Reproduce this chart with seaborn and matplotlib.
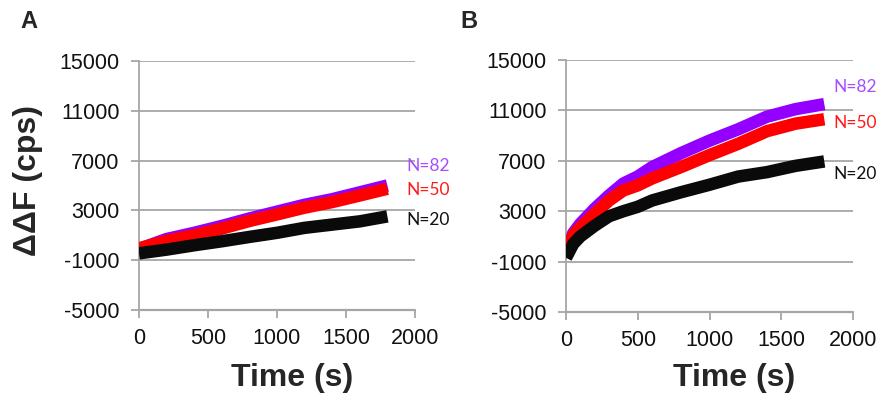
import matplotlib
matplotlib.use("Agg")
import matplotlib.pyplot as plt
import seaborn as sns
import pandas as pd

sns.set_style("white")
plt.rcParams['font.family'] = ['Liberation Sans', 'DejaVu Sans']

# ---- data ----
time_a = [0, 200, 400, 600, 800, 1000, 1200, 1400, 1600, 1800]
a_n82 = [-100, 700, 1200, 1750, 2350, 2900, 3450, 3900, 4450, 5000]
a_n50 = [-50, 550, 1000, 1540, 2150, 2680, 3220, 3670, 4200, 4740]
a_n20 = [-450, -150, 200, 520, 870, 1200, 1600, 1860, 2120, 2520]

time_b = [0, 50, 100, 200, 300, 400, 500, 600, 800, 1000, 1200, 1400, 1600, 1800]
b_n82 = [-500, 1250, 2000, 3200, 4250, 5200, 5750, 6500, 7600, 8600, 9500, 10500, 11100, 11500]
b_n50 = [-400, 1100, 1700, 2800, 3850, 4650, 5050, 5600, 6500, 7450, 8350, 9350, 9950, 10300]
b_n20 = [-700, 400, 1000, 1850, 2600, 3000, 3350, 3850, 4500, 5100, 5750, 6100, 6600, 6950]

series = ["N=82", "N=50", "N=20"]
colors = {"N=82": "#9400FF", "N=50": "#FF0000", "N=20": "#0A0A0A"}
label_colors = {"N=82": "#A64DFF", "N=50": "#FF1A1A", "N=20": "#111111"}

x_ticks = [0, 500, 1000, 1500, 2000]
y_ticks = [-5000, -1000, 3000, 7000, 11000, 15000]


def make_df(t, vals):
    rows = []
    for name, v in zip(series, vals):
        for ti, vi in zip(t, v):
            rows.append({"Time": ti, "dF": vi, "N": name})
    return pd.DataFrame(rows)


df_a = make_df(time_a, [a_n82, a_n50, a_n20])
df_b = make_df(time_b, [b_n82, b_n50, b_n20])

W, H = 883, 398
fig = plt.figure(figsize=(W / 100, H / 100), dpi=100)
ax_a = fig.add_axes([139 / W, 1 - 310 / H, 276 / W, 249 / H])
ax_b = fig.add_axes([566 / W, 1 - 312 / H, 287 / W, 252 / H])

grid_c = "#A6A6A6"
for ax, df, lab_pos, xlab_px in [
    (ax_a, df_a, {"N=82": (1935, 6566), "N=50": (1935, 4640), "N=20": (1935, 2220)}, 292),
    (ax_b, df_b, {"N=82": (1862, 12857), "N=50": (1862, 10000), "N=20": (1862, 5952)}, 734),
]:
    sns.lineplot(data=df, x="Time", y="dF", hue="N", hue_order=series,
                 palette=colors, linewidth=9, estimator=None, sort=False,
                 legend=False, ax=ax, solid_capstyle="butt", zorder=3)
    ax.set_xlim(0, 2000)
    ax.set_ylim(-5000, 15000)
    ax.set_xticks(x_ticks)
    ax.set_yticks(y_ticks)
    ax.set_xticklabels([str(v) for v in x_ticks], fontsize=15.5)
    ax.set_yticklabels([str(v) for v in y_ticks], fontsize=15.5)
    ax.grid(axis="y", color=grid_c, linewidth=1.3, zorder=0)
    ax.grid(axis="x", visible=False)
    for s in ["top", "right", "bottom"]:
        ax.spines[s].set_visible(False)
    ax.spines["left"].set_color(grid_c)
    ax.spines["left"].set_linewidth(1.3)
    ax.axhline(-5000, color=grid_c, linewidth=1.6, zorder=1, clip_on=False)
    ax.tick_params(axis="both", which="both", color=grid_c, width=1.3,
                   length=6, direction="out", labelcolor="#111111",
                   bottom=True, left=True)
    ax.tick_params(axis="x", pad=7)
    ax.tick_params(axis="y", pad=8)
    ax.set_xlabel("")
    ax.set_ylabel("")
    fig.text(xlab_px / W, 1 - 378 / H, "Time (s)", fontsize=23, fontweight="bold",
             ha="center", va="center")
    for name in series:
        x, y = lab_pos[name]
        ax.text(x, y, name, color=label_colors[name], fontsize=12.5,
                ha="left", va="center", clip_on=False, family=["Lato", "DejaVu Sans"])

fig.text(28 / W, 1 - 181 / H, "ΔΔF (cps)", fontsize=23, fontweight="bold",
         rotation=90, ha="center", va="center")

fig.text(29 / W, 1 - 22 / H, "A", fontsize=17, fontweight="bold", ha="center", va="center")
fig.text(469 / W, 1 - 22 / H, "B", fontsize=17, fontweight="bold", ha="center", va="center")

fig.savefig("out.png", dpi=100)
